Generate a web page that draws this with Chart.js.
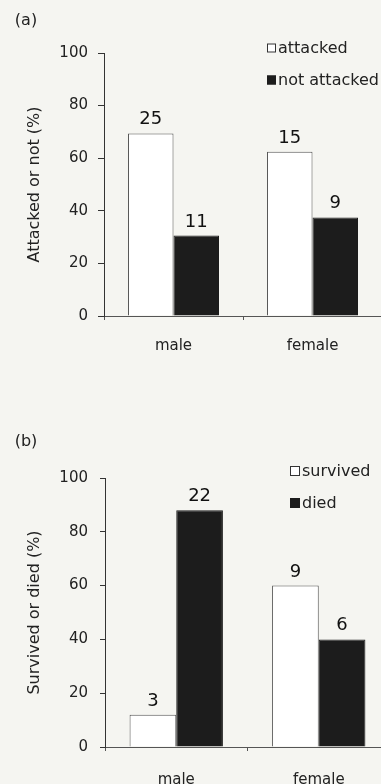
<!DOCTYPE html>
<html><head><meta charset="utf-8">
<script src="https://cdn.jsdelivr.net/npm/chart.js@4.4.1/dist/chart.umd.min.js"></script>
<style>
html,body{margin:0;padding:0;background:#f5f5f1;overflow:hidden;width:381px;height:784px;}
#wa{position:absolute;left:0;top:0;width:382px;height:370px;}
#wb{position:absolute;left:0;top:400px;width:390px;height:384px;}
</style></head><body>
<div id="wa"><canvas id="ca"></canvas></div>
<div id="wb"><canvas id="cb"></canvas></div>
<script>
// ---- data ----
const categories = ['male', 'female'];
const yTicks = [0, 20, 40, 60, 80, 100];
// panel (a)
const attackedPct = [69.4, 62.5];
const notAttackedPct = [30.6, 37.5];
const attackedN = [25, 15];
const notAttackedN = [11, 9];
// panel (b)
const survivedPct = [12, 60];
const diedPct = [88, 40];
const survivedN = [3, 9];
const diedN = [22, 6];

Chart.defaults.font.family = '"DejaVu Sans", sans-serif';
Chart.defaults.color = '#222';

const panelPlugin = {
  id: 'panelExtras',
  afterDraw(chart, args, o) {
    const ctx = chart.ctx;
    ctx.save();
    // panel label
    ctx.fillStyle = '#222';
    ctx.font = '16px "DejaVu Sans"';
    ctx.textAlign = 'center';
    ctx.textBaseline = 'middle';
    ctx.fillText(o.panel, o.panelX, o.panelY);
    // value labels
    ctx.font = '18px "DejaVu Sans"';
    ctx.textBaseline = 'alphabetic';
    ctx.fillStyle = '#111';
    chart.data.datasets.forEach((ds, di) => {
      const meta = chart.getDatasetMeta(di);
      meta.data.forEach((bar, i) => {
        ctx.fillText(String(ds.counts[i]), bar.x, bar.y - 9);
      });
    });
    // legend
    ctx.font = '16px "DejaVu Sans"';
    ctx.textAlign = 'left';
    ctx.textBaseline = 'middle';
    chart.data.datasets.forEach((ds, di) => {
      const cy = o.legY + di * o.legGap;
      ctx.fillStyle = ds.backgroundColor;
      ctx.strokeStyle = di === 0 ? '#333' : ds.backgroundColor;
      ctx.lineWidth = 1;
      ctx.fillRect(o.legX, cy - o.box / 2, o.box, o.box);
      ctx.strokeRect(o.legX + 0.5, cy - o.box / 2 + 0.5, o.box - 1, o.box - 1);
      ctx.fillStyle = '#222';
      ctx.fillText(ds.label, o.legX + o.box + 2, cy + 1);
    });
    ctx.restore();
  }
};

function makeChart(id, cfg) {
  return new Chart(document.getElementById(id), {
    type: 'bar',
    data: {
      labels: categories,
      datasets: [
        { label: cfg.names[0], data: cfg.a, counts: cfg.na, backgroundColor: '#ffffff', borderColor: '#555', borderWidth: 1 },
        { label: cfg.names[1], data: cfg.b, counts: cfg.nb, backgroundColor: '#1c1c1c', borderColor: '#1c1c1c', borderWidth: 1 }
      ]
    },
    options: {
      responsive: true, maintainAspectRatio: false, animation: false,
      layout: { padding: { top: cfg.top, left: 0, right: 0, bottom: 0 } },
      datasets: { bar: { categoryPercentage: 0.655, barPercentage: 1 } },
      plugins: {
        legend: { display: false }, tooltip: { enabled: false },
        panelExtras: cfg.extras
      },
      scales: {
        x: {
          offset: true,
          grid: { drawOnChartArea: false, tickLength: 4, color: '#555' },
          border: { color: '#555' },
          ticks: { font: { size: 15 }, color: '#222', padding: cfg.xpad },
          afterFit: s => { s.height = cfg.xh; }
        },
        y: {
          min: 0, max: 100,
          afterBuildTicks: s => { s.ticks = yTicks.map(v => ({ value: v })); },
          ticks: { font: { size: 15 }, color: '#222', padding: cfg.ypad },
          grid: { drawOnChartArea: false, tickLength: cfg.ytl, color: '#333' },
          border: { color: '#333' },
          title: { display: true, text: cfg.ytitle, font: { size: 16 }, color: '#222', padding: { top: 25, bottom: 0 } },
          afterFit: s => { s.width = cfg.yw; }
        }
      }
    },
    plugins: [panelPlugin]
  });
}

makeChart('ca', {
  names: ['attacked', 'not attacked'],
  a: attackedPct, b: notAttackedPct, na: attackedN, nb: notAttackedN,
  top: 53, xh: 54, xpad: 17, yw: 104, ypad: 10, ytl: 6,
  ytitle: 'Attacked or not (%)',
  extras: { panel: '(a)', panelX: 26, panelY: 21, legX: 267, legY: 48, legGap: 32, box: 9 }
});
makeChart('cb', {
  names: ['survived', 'died'],
  a: survivedPct, b: diedPct, na: survivedN, nb: diedN,
  top: 78, xh: 37, xpad: 20, yw: 105, ypad: 12, ytl: 5,
  ytitle: 'Survived or died (%)',
  extras: { panel: '(b)', panelX: 26, panelY: 42, legX: 290, legY: 71, legGap: 32, box: 10 }
});
</script>
</body></html>
